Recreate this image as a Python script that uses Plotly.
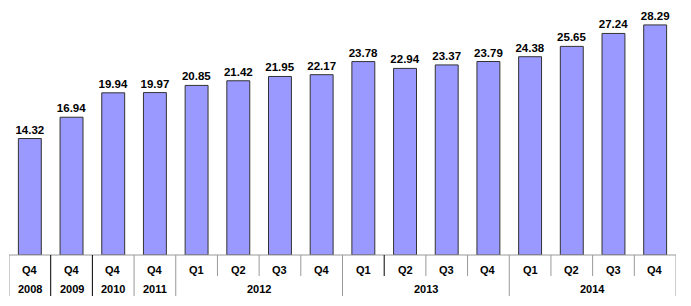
import plotly.graph_objects as go

quarters = ["Q4", "Q4", "Q4", "Q4", "Q1", "Q2", "Q3", "Q4", "Q1", "Q2", "Q3", "Q4", "Q1", "Q2", "Q3", "Q4"]
years = ["2008", "2009", "2010", "2011", "2012", "2012", "2012", "2012",
         "2013", "2013", "2013", "2013", "2014", "2014", "2014", "2014"]
values = [14.32, 16.94, 19.94, 19.97, 20.85, 21.42, 21.95, 22.17,
          23.78, 22.94, 23.37, 23.79, 24.38, 25.65, 27.24, 28.29]

n = len(values)
xs = list(range(n))
PLOT_H = 244.0  # plot height in px (306 - 11 - 51)


def py(px_below):
    """paper y coordinate for a given pixel distance below the baseline"""
    return -px_below / PLOT_H


FONT = dict(family="Liberation Sans, Arial", size=11, color="#000000")

fig = go.Figure()
fig.add_trace(go.Bar(
    x=xs, y=values, width=0.55,
    marker=dict(color="#9999ff", line=dict(color="#333333", width=1)),
    text=[f"<b>{v:.2f}</b>" for v in values], textposition="outside",
    textfont=dict(family="Liberation Sans, Arial", size=11.5, color="#000000"),
    constraintext="none",
    cliponaxis=False,
))

shapes = []
annotations = []
shapes.append(dict(type="line", xref="x", yref="paper", x0=-0.5, x1=n - 0.5, y0=0, y1=0,
                   line=dict(color="#999999", width=1)))
for i, q in enumerate(quarters):
    annotations.append(dict(x=i, y=py(15), xref="x", yref="paper", text=f"<b>{q}</b>",
                            showarrow=False, font=FONT, yanchor="middle"))
groups = []
for i, y in enumerate(years):
    if groups and groups[-1][0] == y:
        groups[-1][2] = i
    else:
        groups.append([y, i, i])
for y, a, b in groups:
    annotations.append(dict(x=(a + b) / 2, y=py(34), xref="x", yref="paper", text=f"<b>{y}</b>",
                            showarrow=False, font=FONT, yanchor="middle"))
boundaries_long = set()
for y, a, b in groups:
    boundaries_long.add(a)
    boundaries_long.add(b + 1)
black = {1, 2, 9}
for k in range(n + 1):
    long = k in boundaries_long
    col = "#000000" if k in black else "#999999"
    shapes.append(dict(type="line", xref="x", yref="paper", x0=k - 0.5, x1=k - 0.5,
                       y0=0, y1=py(41 if long else 21), line=dict(color=col, width=1)))

fig.update_layout(
    width=691, height=306,
    margin=dict(l=9, r=15, t=11, b=51),
    paper_bgcolor="white", plot_bgcolor="white",
    showlegend=False,
    xaxis=dict(range=[-0.5, n - 0.5], showticklabels=False, showgrid=False, zeroline=False,
               showline=False, ticks=""),
    yaxis=dict(range=[0, 30], showticklabels=False, showgrid=False, zeroline=False,
               showline=False, ticks=""),
    shapes=shapes, annotations=annotations,
)
fig.write_html("out.html")
